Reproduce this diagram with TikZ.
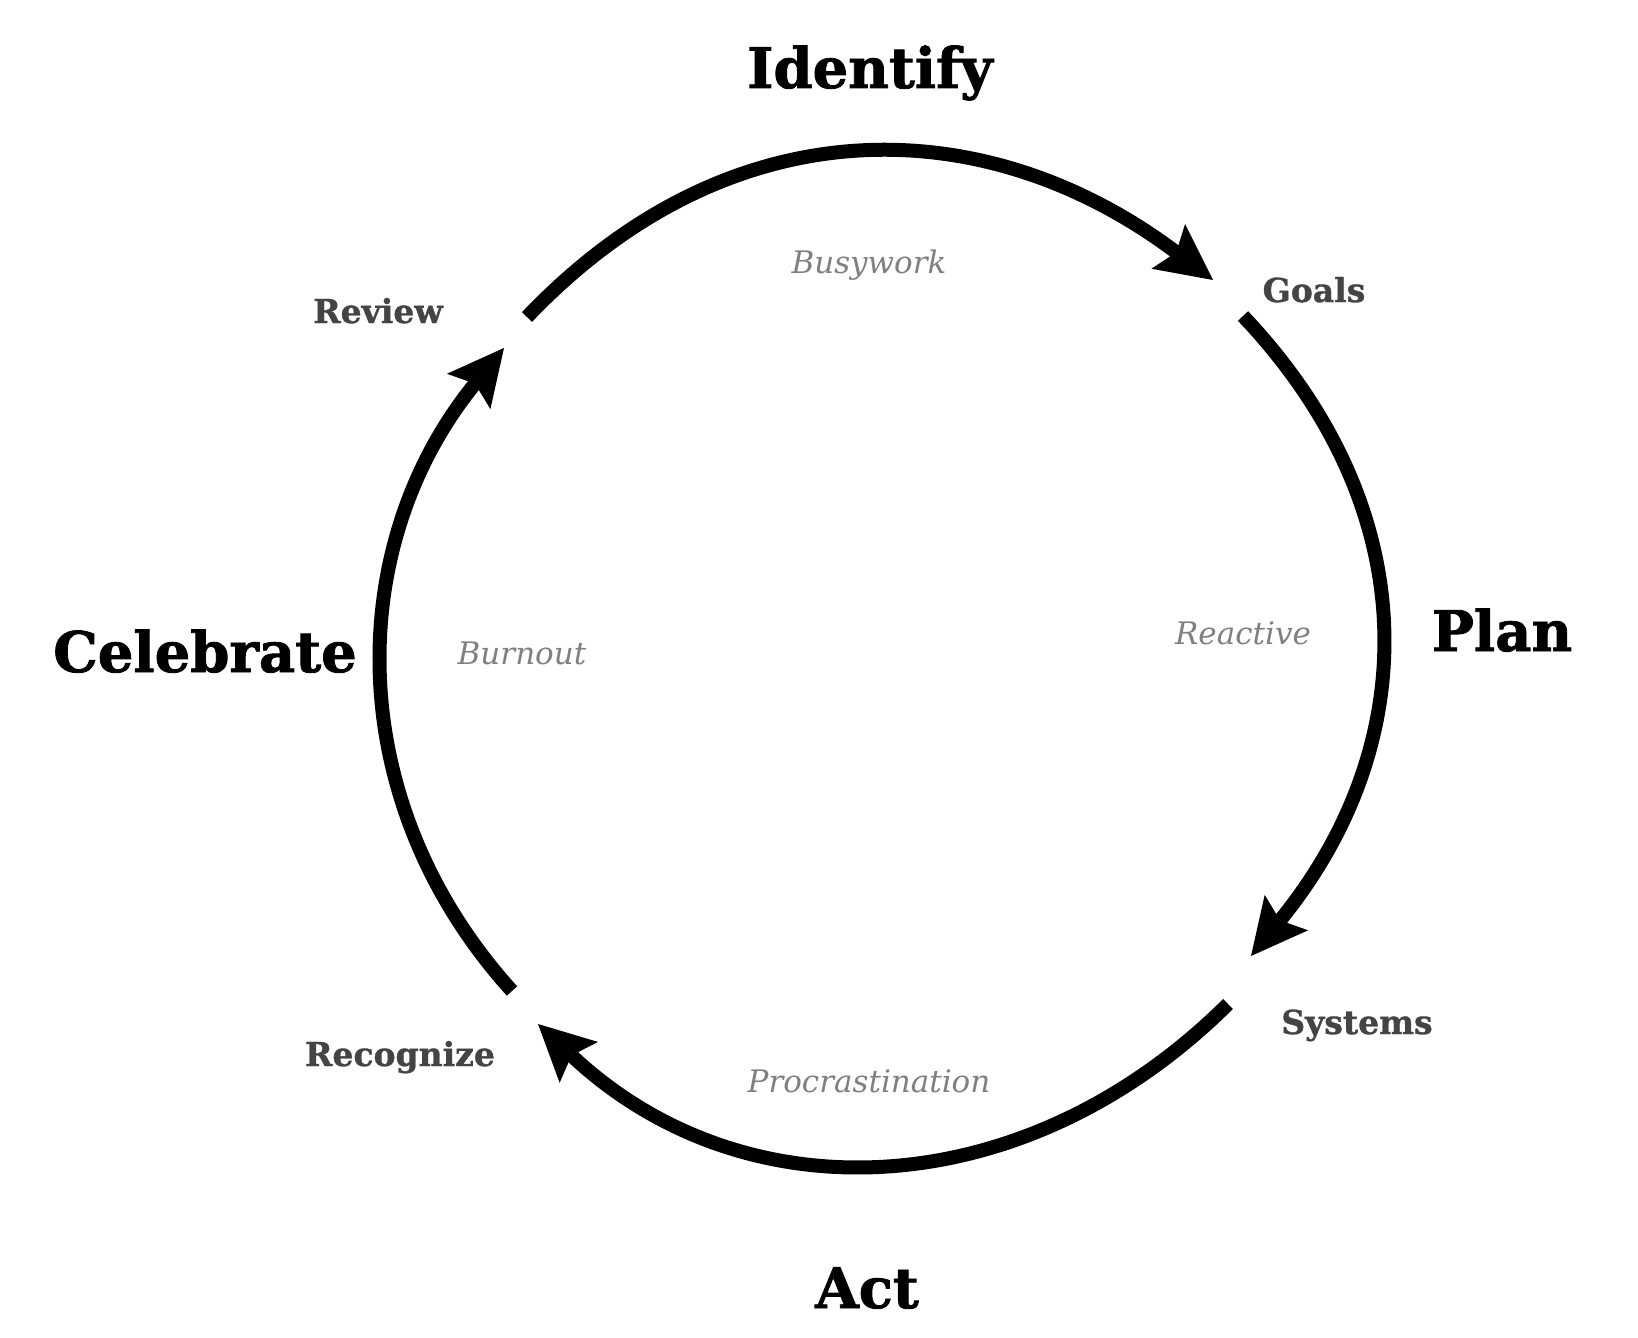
\documentclass[tikz,border=0pt]{standalone}
\usepackage{fontspec}
\setmainfont{DejaVu Serif}
\newfontfamily\heavyserif{DejaVu Serif}[BoldFeatures={FakeBold=1.5}]
\newfontfamily\midserif{DejaVu Serif}[BoldFeatures={FakeBold=1}]
\usetikzlibrary{arrows.meta}
\definecolor{labgray}{HTML}{444444}
\definecolor{softgray}{HTML}{808080}
\begin{document}
\begin{tikzpicture}[x=1pt,y=-1pt,
  stage/.style={font=\heavyserif\fontsize{56}{60}\selectfont\bfseries, text=black, anchor=base, inner sep=0pt},
  sublabel/.style={font=\midserif\fontsize{33}{36}\selectfont\bfseries, text=labgray, anchor=base, inner sep=0pt},
  trap/.style={font=\fontsize{31}{34}\selectfont\itshape, text=softgray, anchor=base, inner sep=0pt},
  cycle/.style={line width=14pt, -{Stealth[length=56pt,width=56pt,inset=10pt,line width=0pt]}}]
\fill[white] (0,0) rectangle (1638,1338);
\useasboundingbox (0,0) rectangle (1638,1338);

% stage titles
\node[stage] (identify) at (870,88) {Identify};
\node[stage] (plan) at (1502,651) {Plan};
\node[stage] (act) at (867,1308) {Act};
\node[stage] (celebrate) at (205,672) {Celebrate};

% step labels
\node[sublabel] (goals) at (1314,302) {Goals};
\node[sublabel] (systems) at (1357,1034) {Systems};
\node[sublabel] (recognize) at (400,1066) {Recognize};
\node[sublabel] (review) at (378,323) {Review};

% traps
\node[trap] (busywork) at (869,273) {Busywork};
\node[trap] (reactive) at (1243,644) {Reactive};
\node[trap] (procrastination) at (869,1092) {Procrastination};
\node[trap] (burnout) at (522,664) {Burnout};

% arc end points
\coordinate (topS) at (527,317);
\coordinate (topE) at (1213,280);
\coordinate (rightS) at (1243,316);
\coordinate (rightE) at (1251,956);
\coordinate (botS) at (1228,1004);
\coordinate (botE) at (538,1024);
\coordinate (leftS) at (512,991);
\coordinate (leftE) at (504,348);

\draw[cycle] (topS) .. controls (734,100) and (989,111.5) .. (topE);
\draw[cycle] (rightS) .. controls (1428.5,512) and (1421.6,746.8) .. (rightE);
\draw[cycle] (botS) .. controls (1026,1204.6) and (745.8,1219.2) .. (botE);
\draw[cycle] (leftS) .. controls (341,802) and (343,546) .. (leftE);
\end{tikzpicture}
\end{document}
